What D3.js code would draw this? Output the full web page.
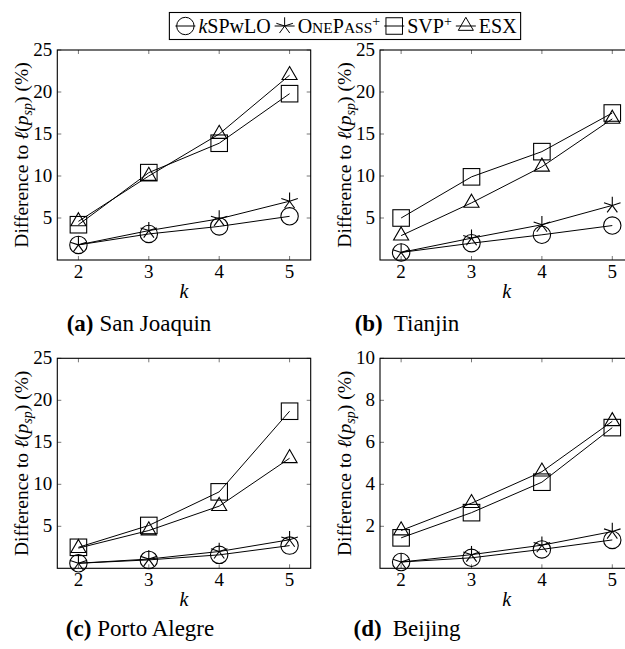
<!DOCTYPE html>
<html>
<head>
<meta charset="utf-8">
<script src="https://cdn.jsdelivr.net/npm/d3@7"></script>
</head>
<body style="margin:0;background:#fff">
<div id="chart"></div>
<script>
// x values and series
var kValues = [2, 3, 4, 5];
var seriesNames = ['kSPwLO', 'OnePass+', 'SVP+', 'ESX'];
var seriesMarks = ['circle', 'star', 'square', 'triangle'];

// rows: kSPwLO, OnePass+, SVP+, ESX
var sanJoaquin = [
    [1.8, 3.1, 4.0, 5.2],
    [1.8, 3.5, 4.9, 7.0],
    [4.2, 10.4, 13.9, 19.8],
    [4.6, 10.0, 15.0, 22.0]
];
var tianjin = [
    [0.9, 2.0, 3.0, 4.1],
    [0.9, 2.6, 4.2, 6.5],
    [5.0, 9.9, 12.9, 17.5],
    [2.9, 6.8, 11.1, 16.8]
];
var portoAlegre = [
    [0.6, 1.0, 1.6, 2.7],
    [0.6, 1.1, 2.0, 3.4],
    [2.5, 5.1, 9.1, 18.7],
    [2.4, 4.5, 7.4, 13.1]
];
var beijing = [
    [0.3, 0.5, 0.9, 1.35],
    [0.3, 0.65, 1.1, 1.75],
    [1.45, 2.65, 4.1, 6.7],
    [1.8, 3.1, 4.6, 7.0]
];

var ticks25 = [5, 10, 15, 20, 25];
var ticks10 = [2, 4, 6, 8, 10];
var panelLetters = ['(a)', '(b)', '(c)', '(d)'];
var panelNames = ['San Joaquin', 'Tianjin', 'Porto Alegre', 'Beijing'];

var panels = [
    {data: sanJoaquin, yMax: 25, ticks: ticks25, left: 57.3, top: 50, capX: 139, capY: 331},
    {data: tianjin, yMax: 25, ticks: ticks25, left: 380, top: 50, capX: 407, capY: 331},
    {data: portoAlegre, yMax: 25, ticks: ticks25, left: 57.3, top: 358.3, capX: 140, capY: 636},
    {data: beijing, yMax: 10, ticks: ticks10, left: 380, top: 358.3, capX: 407, capY: 636}
];

var plotW = 253.4, plotH = 210, markR = 8.7;
var serif = '"Liberation Serif", serif';

var svg = d3.select('#chart').append('svg')
    .attr('width', 625).attr('height', 649)
    .style('font-family', serif);

function drawMark(g, type, x, y, r) {
    if (type === 'circle') {
        g.append('circle').attr('cx', x).attr('cy', y).attr('r', r);
    } else if (type === 'square') {
        g.append('rect').attr('x', x - r * 0.95).attr('y', y - r * 0.95)
            .attr('width', r * 1.9).attr('height', r * 1.9);
    } else if (type === 'triangle') {
        g.append('path').attr('d', 'M' + x + ',' + (y - r) +
            'L' + (x + 0.866 * r) + ',' + (y + 0.5 * r) +
            'L' + (x - 0.866 * r) + ',' + (y + 0.5 * r) + 'Z');
    } else {
        for (var i = 0; i < 5; i++) {
            var a = (90 + 72 * i) * Math.PI / 180;
            g.append('line').attr('x1', x).attr('y1', y)
                .attr('x2', x + r * Math.cos(a)).attr('y2', y - r * Math.sin(a));
        }
    }
}

panels.forEach(function(p, pi) {
    var g = svg.append('g');
    var x = d3.scaleLinear().domain([1.7, 5.3]).range([p.left, p.left + plotW]);
    var y = d3.scaleLinear().domain([0, p.yMax]).range([p.top + plotH, p.top]);

    // tick marks (inside, both sides)
    var tg = g.append('g').attr('stroke', '#777').attr('stroke-width', 1);
    kValues.forEach(function(k) {
        tg.append('line').attr('x1', x(k)).attr('x2', x(k)).attr('y1', p.top + plotH).attr('y2', p.top + plotH - 4);
        tg.append('line').attr('x1', x(k)).attr('x2', x(k)).attr('y1', p.top).attr('y2', p.top + 4);
    });
    p.ticks.forEach(function(t) {
        tg.append('line').attr('x1', p.left).attr('x2', p.left + 4).attr('y1', y(t)).attr('y2', y(t));
        tg.append('line').attr('x1', p.left + plotW).attr('x2', p.left + plotW - 4).attr('y1', y(t)).attr('y2', y(t));
    });

    // box
    g.append('rect').attr('x', p.left).attr('y', p.top)
        .attr('width', plotW).attr('height', plotH)
        .attr('fill', 'none').attr('stroke', '#000').attr('stroke-width', 1.1);

    // tick labels
    g.selectAll('text.xt').data(kValues).enter().append('text')
        .attr('class', 'xt')
        .attr('x', function(d) { return x(d); })
        .attr('y', p.top + plotH + 18)
        .attr('text-anchor', 'middle').attr('font-size', 19)
        .text(function(d) { return d; });
    g.selectAll('text.yt').data(p.ticks).enter().append('text')
        .attr('class', 'yt')
        .attr('x', p.left - 5)
        .attr('y', function(d) { return y(d) + 6; })
        .attr('text-anchor', 'end').attr('font-size', 19)
        .text(function(d) { return d; });

    // axis labels
    g.append('text').attr('x', x(3.5)).attr('y', p.top + plotH + 38)
        .attr('text-anchor', 'middle').attr('font-size', 20)
        .attr('font-style', 'italic').text('k');
    var yl = g.append('text')
        .attr('transform', 'translate(' + (p.left - 29) + ',' + (p.top + plotH / 2) + ') rotate(-90)')
        .attr('text-anchor', 'middle').attr('font-size', 19.5);
    yl.append('tspan').text('Difference to ');
    yl.append('tspan').attr('font-style', 'italic').text('ℓ');
    yl.append('tspan').text('(');
    yl.append('tspan').attr('font-style', 'italic').text('p');
    yl.append('tspan').attr('font-style', 'italic').attr('font-size', 14).attr('dy', 4).text('sp');
    yl.append('tspan').attr('dy', -4).text(')');
    yl.append('tspan').text(' (%)');

    // series lines and marks
    var line = d3.line()
        .x(function(d, i) { return x(kValues[i]); })
        .y(function(d) { return y(d); });
    p.data.forEach(function(vals, si) {
        g.append('path').datum(vals).attr('d', line)
            .attr('fill', 'none').attr('stroke', '#000').attr('stroke-width', 1);
        var mg = g.append('g').attr('fill', 'none').attr('stroke', '#000').attr('stroke-width', 1.1);
        vals.forEach(function(v, i) {
            drawMark(mg, seriesMarks[si], x(kValues[i]), y(v), markR);
        });
    });

    // caption
    var cap = svg.append('text').attr('x', p.capX).attr('y', p.capY)
        .attr('text-anchor', 'middle').attr('font-size', 23);
    cap.append('tspan').attr('font-weight', 'bold').text(panelLetters[pi]);
    cap.append('tspan').attr('dx', pi % 2 ? 11 : 6).text(panelNames[pi]);
});

// legend
var lg = svg.append('g');
var cursor = 0;
var legendLabels = [
    [{t: 'k', it: true}, {t: 'SPwLO'}],
    [{t: 'O'}, {t: 'NE', sc: true}, {t: 'P'}, {t: 'ASS', sc: true}, {t: '+', sup: true}],
    [{t: 'SVP'}, {t: '+', sup: true}],
    [{t: 'ESX'}]
];
seriesNames.forEach(function(name, si) {
    var ig = lg.append('g').attr('fill', 'none').attr('stroke', '#000').attr('stroke-width', 1);
    ig.append('line').attr('x1', cursor).attr('x2', cursor + 20).attr('y1', 0).attr('y2', 0);
    drawMark(ig, seriesMarks[si], cursor + 10, 0, markR);
    cursor += 23;
    var t = lg.append('text').attr('x', cursor).attr('y', 6.5).attr('font-size', 20);
    legendLabels[si].forEach(function(part) {
        var s = t.append('tspan').text(part.t);
        if (part.it) s.attr('font-style', 'italic');
        if (part.sc) s.attr('font-size', 15.5);
        if (part.sup) s.attr('font-size', 14).attr('dy', -7);
    });
    cursor += t.node().getComputedTextLength() + 4;
});
var legendW = cursor + 6;
var legendX = 345 - legendW / 2;
lg.attr('transform', 'translate(' + (legendX + 6) + ',' + 26 + ')');
svg.insert('rect', ':first-child')
    .attr('x', legendX).attr('y', 12.5).attr('width', legendW).attr('height', 27)
    .attr('fill', 'none').attr('stroke', '#000').attr('stroke-width', 1.1);

// inline style on every text so nothing falls back to a sans face
svg.selectAll('text').style('font-family', serif);
</script>
</body>
</html>
